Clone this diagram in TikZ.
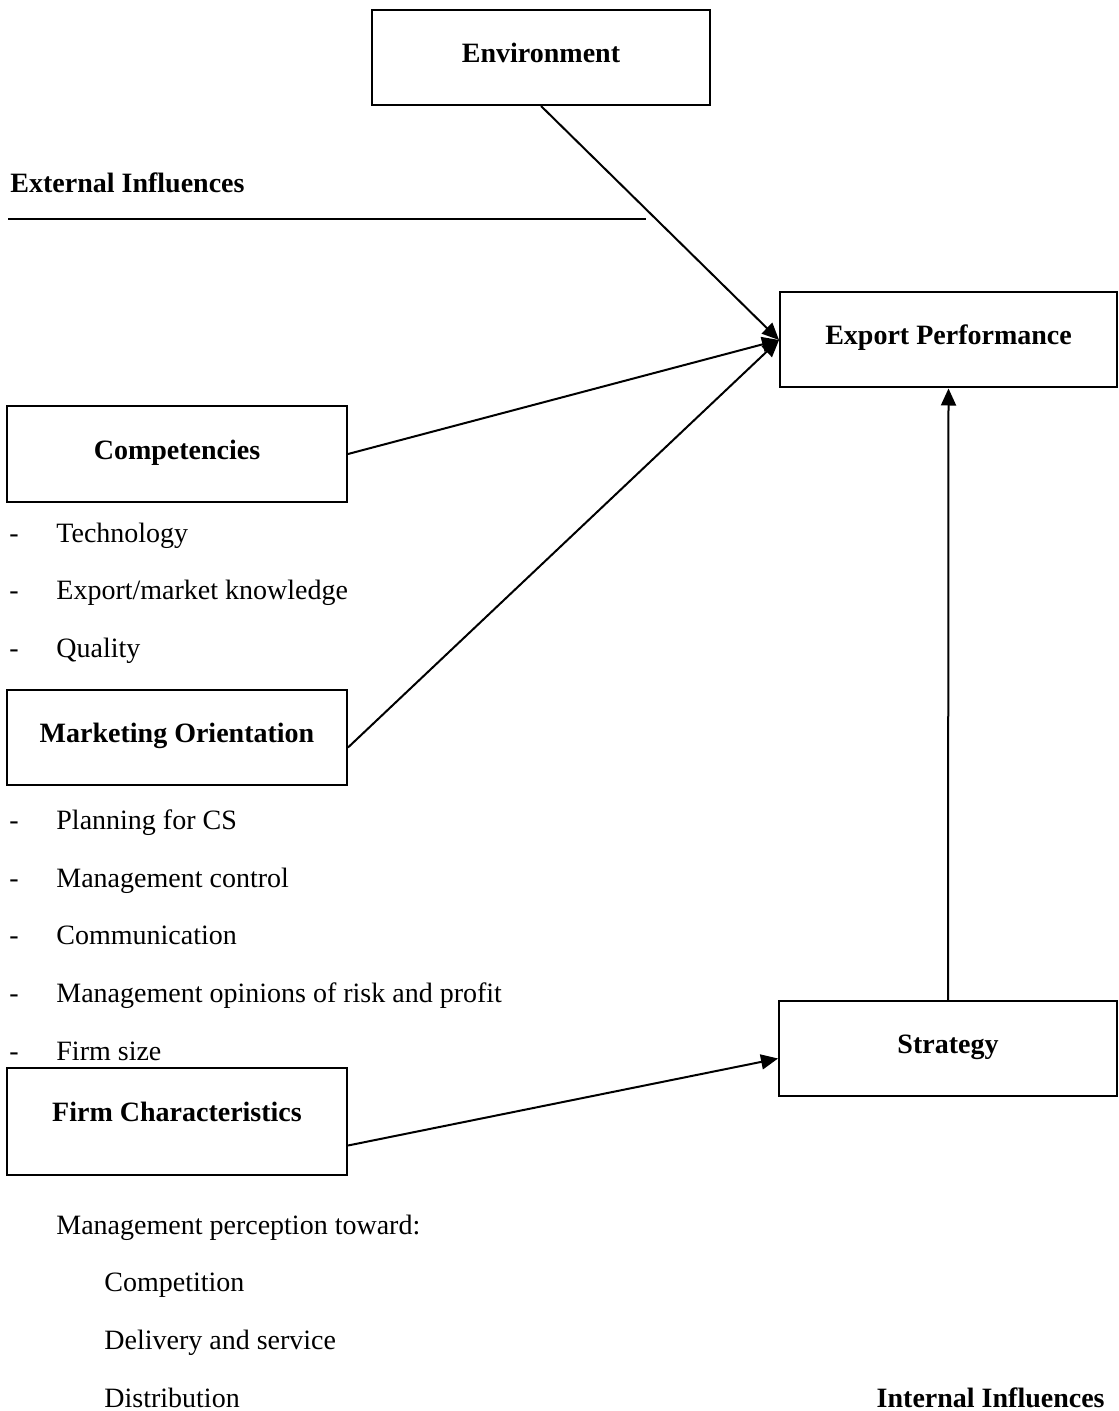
\documentclass[tikz,border=0pt]{standalone}
\usepackage{fontspec}
\setmainfont{Liberation Serif}
\usetikzlibrary{arrows.meta}

\newcommand\diagfont{\fontsize{14}{17}\selectfont}

\begin{document}
\begin{tikzpicture}[
  x=0.5pt,y=-0.5pt,
  factor/.style={draw,line width=1pt,minimum width=170pt,minimum height=47.5pt,
    text height=10pt,text depth=5pt,font=\diagfont\bfseries},
  link/.style={-{Triangle[length=8.5pt,width=7.5pt]},line width=1pt},
  item/.style={anchor=base west,inner sep=0pt,font=\diagfont},
  every node/.append style={font=\diagfont}
]
  \useasboundingbox (0,0) rectangle (1118,1411);

  % external side
  \node[factor,minimum width=169pt] (env) at (541,57.5) {Environment};
  \node[item,font=\diagfont\bfseries] (ext) at (10,193) {External Influences};
  \coordinate (rule-l) at (8,219);
  \coordinate (rule-r) at (646,219);
  \draw[line width=1pt] (rule-l) -- (rule-r);

  % outcome and strategy
  \node[factor,minimum width=168.5pt] (perf) at (948.5,340) {Export Performance};
  \node[factor,minimum width=169pt] (strat) at (948,1048.5) {Strategy};

  % internal factors
  \node[factor] (comp) at (177,454) {Competencies};
  \foreach \txt [count=\i] in {Technology,Export/market knowledge,Quality}{
    \node[item] (comp-dash\i) at (9,484.5+57.5*\i) {-};
    \node[item] (comp-item\i) at (56,484.5+57.5*\i) {\txt};
  }

  \node[factor] (mkt) at (177,737.5) {Marketing Orientation};
  \foreach \txt [count=\i] in {Planning for CS,Management control,Communication,
      Management opinions of risk and profit,Firm size}{
    \node[item] (mkt-dash\i) at (9,772+57.6*\i) {-};
    \node[item] (mkt-item\i) at (56,772+57.6*\i) {\txt};
  }

  \node[factor,minimum height=53.5pt,text depth=10pt] (firm) at (177,1121.5) {Firm Characteristics};
  \node[item] (percep) at (56,1234) {Management perception toward:};
  \foreach \txt [count=\i] in {Competition,Delivery and service,Distribution}{
    \node[item] (percep-item\i) at (104,1234+57.8*\i) {\txt};
  }
  \node[anchor=base east,inner sep=0pt,font=\diagfont\bfseries] (int) at (1105,1407) {Internal Influences};

  % influences
  \draw[link] (env.south) -- (perf.west);
  \draw[link] (comp.east) -- (perf.west);
  \draw[link] ([yshift=-5pt]mkt.east) -- (perf.west);
  \draw[link] ([yshift=-12pt]firm.east) -- ([yshift=-5pt]strat.west);
  \draw[link] (strat.north) -- (perf.south);
\end{tikzpicture}
\end{document}
